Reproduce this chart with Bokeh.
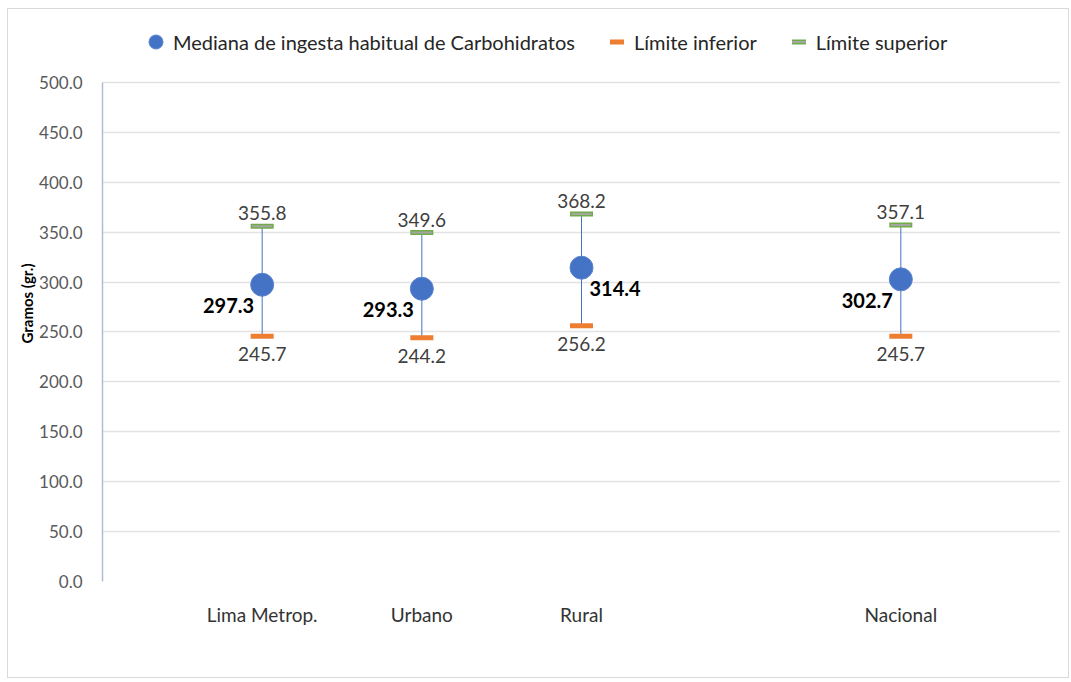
import math
from bokeh.plotting import figure
from bokeh.models import (ColumnDataSource, FactorRange, Range1d, FixedTicker,
                          NumeralTickFormatter, Legend, LegendItem)
from bokeh.embed import file_html
from bokeh.resources import INLINE
from bokeh.core.properties import value

# ---- data ----
categories = ["Lima Metrop.", "Urbano", "Rural", "Nacional"]
mediana = [297.3, 293.3, 314.4, 302.7]
limite_inferior = [245.7, 244.2, 256.2, 245.7]
limite_superior = [355.8, 349.6, 368.2, 357.1]
axis_factors = ["Lima Metrop.", "Urbano", "Rural", " ", "Nacional"]
y_ticks = [0, 50, 100, 150, 200, 250, 300, 350, 400, 450, 500]

# which side the median label sits on (style)
median_label_side = ["left", "left", "right", "left"]

FONT = "Lato"
BLUE = "#4472C4"
ORANGE = "#ED7D31"
GREEN = "#70AD47"
GRAY = "#A5A5A5"

src = ColumnDataSource(dict(
    cat=categories,
    med=mediana,
    inf=limite_inferior,
    sup=limite_superior,
    med_lbl=[f"{v:.1f}" for v in mediana],
    inf_lbl=[f"{v:.1f}" for v in limite_inferior],
    sup_lbl=[f"{v:.1f}" for v in limite_superior],
))

idx_left = [i for i, s in enumerate(median_label_side) if s == "left"]
idx_right = [i for i, s in enumerate(median_label_side) if s == "right"]
src_left = ColumnDataSource(dict(cat=[categories[i] for i in idx_left],
                                 med=[mediana[i] for i in idx_left],
                                 lbl=[f"{mediana[i]:.1f}" for i in idx_left]))
src_right = ColumnDataSource(dict(cat=[categories[i] for i in idx_right],
                                  med=[mediana[i] for i in idx_right],
                                  lbl=[f"{mediana[i]:.1f}" for i in idx_right]))

# y range extends above the top tick to leave room for the legend inside the frame
p = figure(width=1062, height=670,
           x_range=FactorRange(factors=axis_factors, range_padding=0.5, range_padding_units="absolute"),
           y_range=Range1d(0, 557),
           output_backend="svg", toolbar_location=None,
           min_border_left=94, min_border_right=10, min_border_top=16, min_border_bottom=98)
p.styles = {"border": "1px solid #d9d9d9", "margin-left": "7px", "margin-top": "8px"}
p.outline_line_color = None
p.background_fill_color = "white"
p.border_fill_color = "white"

# axes
p.yaxis.ticker = FixedTicker(ticks=y_ticks)
p.yaxis.bounds = (y_ticks[0], y_ticks[-1])
p.yaxis.formatter = NumeralTickFormatter(format="0.0")
p.yaxis.major_label_text_font = FONT
p.yaxis.major_label_text_font_size = "17px"
p.yaxis.major_label_text_color = "#595959"
p.yaxis.major_label_standoff = 14
p.yaxis.axis_line_color = "#b0bcd4"
p.yaxis.axis_line_width = 1.5
p.yaxis.major_tick_line_color = None
p.yaxis.minor_tick_line_color = None
p.yaxis.axis_label = "Gramos (gr.)"
p.yaxis.axis_label_text_font = FONT
p.yaxis.axis_label_text_font_size = "15px"
p.yaxis.axis_label_text_font_style = "bold"
p.yaxis.axis_label_text_color = "#000000"
p.yaxis.axis_label_standoff = 0

p.xaxis.major_label_text_font = FONT
p.xaxis.major_label_text_font_size = "19px"
p.xaxis.major_label_text_color = "#333333"
p.xaxis.major_label_standoff = 15
p.xaxis.axis_line_color = None
p.xaxis.major_tick_line_color = None
p.xaxis.minor_tick_line_color = None

p.xgrid.grid_line_color = None
p.ygrid.grid_line_color = "#e3e3e3"
p.ygrid.grid_line_width = 1.5

# error line
p.segment(x0="cat", y0="inf", x1="cat", y1="sup", source=src, line_color=BLUE, line_width=1)

# caps (dash markers)
r_inf = p.scatter(x="cat", y="inf", source=src, marker="dash", size=23,
                  line_color=ORANGE, line_width=5)
r_sup_o = p.scatter(x="cat", y="sup", source=src, marker="dash", size=23,
                    line_color=GREEN, line_width=5)
r_sup_i = p.scatter(x="cat", y="sup", source=src, marker="dash", size=20,
                    line_color=GRAY, line_width=2)

# median points
r_med = p.scatter(x="cat", y="med", source=src, size=23, marker="circle",
                  fill_color=BLUE, line_color="#5b84d0", line_width=1)

# labels
p.text(x="cat", y="sup", text="sup_lbl", source=src, text_align="center", text_baseline="middle",
       y_offset=-13, text_font=value(FONT), text_font_size="19px", text_color="#404040")
p.text(x="cat", y="inf", text="inf_lbl", source=src, text_align="center", text_baseline="middle",
       y_offset=18, text_font=value(FONT), text_font_size="19px", text_color="#404040")
p.text(x="cat", y="med", text="lbl", source=src_left, text_align="right", text_baseline="middle",
       x_offset=-8, y_offset=21, text_font=value(FONT), text_font_size="20px",
       text_font_style="bold", text_color="#000000")
p.text(x="cat", y="med", text="lbl", source=src_right, text_align="left", text_baseline="middle",
       x_offset=8, y_offset=21, text_font=value(FONT), text_font_size="20px",
       text_font_style="bold", text_color="#000000")

legend = Legend(items=[
    LegendItem(label="Mediana de ingesta habitual de Carbohidratos", renderers=[r_med]),
    LegendItem(label="Límite inferior", renderers=[r_inf]),
    LegendItem(label="Límite superior", renderers=[r_sup_o, r_sup_i]),
], location=(36, 522), orientation="horizontal",
    glyph_width=35, glyph_height=35, label_height=35, label_standoff=0,
    padding=0, margin=0, spacing=24,
    border_line_color=None, background_fill_alpha=0,
    label_text_font=FONT, label_text_font_size="20px", label_text_color="#262626")
p.add_layout(legend, "center")

open("out.html", "w").write(file_html(p, INLINE))
